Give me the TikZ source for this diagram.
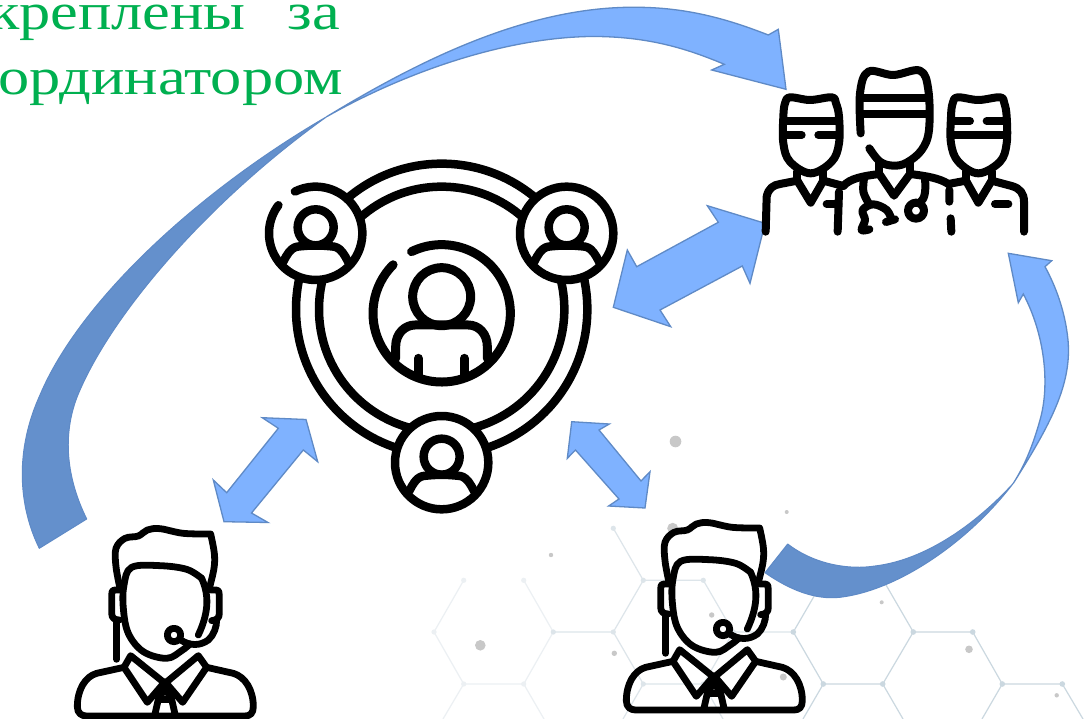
\documentclass[tikz,border=0pt]{standalone}
\usepackage{fontspec}
\newfontfamily\monoru[FakeStretch=1.2]{Liberation Serif}
\definecolor{lightblue}{RGB}{127,178,255}
\definecolor{darkblue}{RGB}{100,144,204}
\definecolor{edgeblue}{RGB}{95,138,198}
\definecolor{titlegreen}{RGB}{0,176,80}
\definecolor{hexa}{RGB}{236,240,243}
\definecolor{hexb}{RGB}{221,229,234}
\definecolor{hexc}{RGB}{203,216,224}
\definecolor{speck}{RGB}{200,200,200}
\tikzset{
  frontarrow/.style={fill=lightblue,draw=edgeblue,line width=1.3pt,line join=miter},
  backarrow/.style={fill=darkblue,draw=edgeblue,line width=1pt,line join=round},
  iconline/.style={draw=black,line width=#1,line cap=round,line join=round},
  hexline/.style={draw=#1,line width=1.2pt},
  hexdot/.style={fill=#1,draw=none},
  titletext/.style={font=\monoru\fontsize{52}{60}\selectfont,text=titlegreen,inner sep=0pt,anchor=base east},
}
% small person in a circle: head and shoulders (zoom units)
\newcommand\satperson[2]{%
  \fill[white] (#1,#2) circle (140);
  \draw[iconline=8.5pt] (#1,#2-18) circle (54);
  \draw[iconline=8.5pt] plot[smooth,tension=.7] coordinates {(#1-97,#2+85) (#1-72,#2+48) (#1-35,#2+38) (#1+35,#2+38) (#1+72,#2+48) (#1+97,#2+85)};
}
% operator with headset
\newcommand\operator[2]{%
\begin{scope}[shift={(#1,#2)},scale=.33333,iconline=6.8pt]
  \draw plot[smooth,tension=.6] coordinates {(180,235) (168,170) (168,115) (195,85) (235,78) (262,60) (300,56) (370,70) (452,72)} -- plot[smooth,tension=.6] coordinates {(452,72) (463,130) (462,175) (448,235)};
  \draw plot[smooth,tension=.6] coordinates {(425,205) (380,178) (300,167) (215,172) (192,225) (190,295) (205,370) (250,425) (320,445) (365,422) (390,402)};
  \draw (425,205) .. controls (445,250) and (450,300) .. (415,375);
  \draw (342,375) circle (20);
  \draw (362,390) .. controls (390,408) and (420,408) .. (445,390) .. controls (462,375) and (470,350) .. (470,330);
  \draw (178,240) -- (165,240) .. controls (155,240) and (155,250) .. (155,255) -- (155,310) .. controls (155,325) and (165,330) .. (178,330);
  \draw (452,240) -- (468,240) .. controls (478,240) and (478,250) .. (478,258) -- (478,310) .. controls (478,325) and (470,330) .. (455,332);
  \draw (170,330) -- (170,448);
  \draw (212,437) -- (192,472) -- (262,577) -- (315,515) -- (368,577) -- (440,472) -- (415,437) -- (315,520) -- cycle;
  \draw (295,568) -- (335,568);
  \draw (295,568) -- (315,535) -- (335,568);
  \draw (295,568) -- (285,612);
  \draw (335,568) -- (345,612);
  \draw (192,472) -- (110,490) .. controls (75,500) and (52,540) .. (52,590) .. controls (52,610) and (65,618) .. (80,618) -- (555,618) .. controls (570,618) and (580,610) .. (580,590) .. controls (580,540) and (555,500) .. (520,490) -- (440,472);
\end{scope}}
\begin{document}
\begin{tikzpicture}[x=1pt,y=-1pt]
\useasboundingbox (0,0) rectangle (1084,719);
\clip (0,0) rectangle (1084,719);
\fill[white] (0,0) rectangle (1084,719);

% hexagon background
\draw[hexline=hexa] (463.7,580.3) -- (434,632) -- (463.7,684) -- (523.7,684) -- (553.3,632) -- (523.7,580.3);
\draw[hexline=hexa] (463.7,684) -- (443,719) (523.7,684) -- (544,719);
\draw[hexline=hexb] (553.3,632) -- (613.3,632) -- (643.3,580.3) -- (613.3,528.3);
\draw[hexline=hexb] (643.3,580.3) -- (703.3,580.3) -- (733.3,632) -- (793.3,632);
\draw[hexline=hexb] (613.3,632) -- (643.3,684) -- (703.3,684) -- (733.3,632);
\draw[hexline=hexb] (643.3,684) -- (623,719) (703.3,684) -- (723,719);
\draw[hexline=hexc] (793.3,632) -- (823.3,684) -- (882.7,684) -- (913.3,632) -- (972.7,632) -- (1002.3,684) -- (1062.3,684) -- (1083,719);
\draw[hexline=hexc] (793.3,632) -- (823.3,580.3) (913.3,632) -- (883.3,580.3);
\draw[hexline=hexc] (823.3,684) -- (803,719) (882.7,684) -- (903,719) (1002.3,684) -- (982,719);
\foreach \hx/\hy in {463.7/580.3,434/632,463.7/684,523.7/684,523.7/580.3}
  \fill[hexdot=hexa] (\hx,\hy) circle (2.6);
\foreach \hx/\hy in {553.3/632,613.3/632,643.3/580.3,613.3/528.3,703.3/580.3,733.3/632,643.3/684,703.3/684}
  \fill[hexdot=hexb] (\hx,\hy) circle (2.6);
\foreach \hx/\hy in {793.3/632,823.3/684,882.7/684,913.3/632,972.7/632,1002.3/684,1062.3/684}
  \fill[hexdot=hexc] (\hx,\hy) circle (2.8);
\foreach \hx/\hy/\hr in {675.5/441.5/5.8,480.3/645.3/5.3,551/555/2.2,614.3/653.3/2.7,711.7/615/2.7,786.7/512/2,881.7/602.3/2,969/649.3/3.8,783.3/677/3.5,1056.7/695.3/2.2,672.7/528.3/5.5}
  \fill[speck] (\hx,\hy) circle (\hr);

% title
\node[titletext] (titleone) at (340,30) {креплены\hspace{26pt} за};
\node[titletext] (titletwo) at (343,95) {ординатором};

% long curved arrow, dark back part then light front part
\draw[backarrow] (39.3,548.3) .. controls (18,505) and (15,450) .. (40,395) .. controls (80,300) and (200,190) .. (327,116.5)
  .. controls (210,200) and (115,310) .. (80,390) .. controls (62,430) and (65,475) .. (86.7,519) -- cycle;
\draw[frontarrow] (327,116.5) .. controls (420,60) and (530,5) .. (640,7.3) .. controls (690,8) and (730,20) .. (768.3,35)
  -- (778.3,29.3) -- (786,89.3) -- (711.7,70) -- (724.3,64.3)
  .. controls (690,50) and (650,36) .. (590,36.5) .. controls (500,38) and (400,75) .. (327,116.5) -- cycle;

% right curved arrow
\draw[backarrow] (765,572.7) -- (787.7,544)
  .. controls (815,565) and (850,570) .. (875,566) .. controls (925,560) and (975,525) .. (1013.3,483.3)
  .. controls (970,540) and (900,590) .. (840,597.3) .. controls (815,600) and (790,590) .. (765,572.7) -- cycle;
\draw[frontarrow] (1013.3,483.3) .. controls (1050,425) and (1072,385) .. (1068,340) .. controls (1065,310) and (1055,285) .. (1045,266.7)
  -- (1051.7,260.7) -- (1008.3,253.3) -- (1018.3,302.7) -- (1023.3,294)
  .. controls (1045,335) and (1050,385) .. (1040,420) .. controls (1033,445) and (1025,465) .. (1013.3,483.3) -- cycle;

% straight double arrows
\draw[frontarrow] (613.3,307.3) -- (627.3,250) -- (636.7,266.7) -- (718.3,222.3) -- (707.3,205.7) -- (765,223.3) -- (750,283.3) -- (742.3,266) -- (660,310) -- (670.7,326.7) -- cycle;
\draw[frontarrow] (306,419.5) -- (317.7,461.7) -- (303.3,450) -- (251.5,513) -- (268,522.5) -- (224,521.7) -- (213.3,480) -- (226.7,492.7) -- (278.3,428.3) -- (262.3,417.7) -- cycle;
\draw[frontarrow] (571.7,421.7) -- (609.3,424) -- (599,430) -- (641,481) -- (650,471.7) -- (645,508) -- (608.6,506) -- (619,499) -- (575.5,450) -- (567.3,458.3) -- cycle;

% central group icon
\begin{scope}[shift={(250,150)},scale=.33333]
  \draw[iconline=8.5pt] (575,478) circle (437);
  \draw[iconline=8.5pt] (575,478) circle (368);
  \satperson{197}{250}
  \draw[iconline=8.5pt] (197,250) ++(243.6:140) arc (243.6:577:140);
  \satperson{950}{250}
  \draw[iconline=8.5pt] (950,250) circle (140);
  \satperson{575}{938}
  \draw[iconline=8.5pt] (575,938) circle (140);
  \draw[iconline=9pt] (575,490) ++(244:206) arc (244:585:206);
  \draw[iconline=9pt] (575,440) circle (87);
  \draw[iconline=9pt] (437,625) -- (437,590) .. controls (437,550) and (465,525) .. (495,525) -- (655,525) .. controls (685,525) and (712,550) .. (712,590) -- (712,625);
  \draw[iconline=9pt] (505,625) -- (505,678) (643,625) -- (643,678);
\end{scope}

% doctors
\begin{scope}[shift={(740,50)},scale=.33333,iconline=8pt]
  % left
  \draw plot[smooth cycle,tension=.6] coordinates {(130,200) (135,160) (150,142) (210,150) (275,142) (288,160) (297,200) (297,280) (275,335) (212,370) (150,335) (130,280)};
  \draw (130,213) -- (297,213);
  \draw (130,255) -- (185,255) (235,255) -- (297,255);
  \draw (172,365) -- (172,392) (250,365) -- (250,392);
  \draw (172,392) -- (212,458) -- (250,392);
  \draw (77,545) -- (80,440) .. controls (85,415) and (100,405) .. (120,402) -- (172,392);
  \draw (250,392) -- (310,408);
  \draw (260,462) -- (295,462);
  \draw (297,425) -- (293,545);
  % centre
  \draw plot[smooth,tension=.6] coordinates {(362,250) (360,130) (385,65) (460,75) (540,62) (565,120) (567,240) (545,300) (500,338) (460,347) (420,335) (388,295)};
  \draw (362,143) -- (565,143) (362,193) -- (565,193);
  \draw (418,335) -- (418,372) (510,335) -- (510,372);
  \draw (418,372) -- (462,437) -- (510,372);
  \draw (310,408) .. controls (330,385) and (370,378) .. (418,372);
  \draw (510,372) .. controls (560,378) and (600,385) .. (625,402);
  \draw plot[smooth,tension=.6] coordinates {(372,385) (370,425) (385,458)};
  \draw plot[smooth,tension=.6] coordinates {(388,538) (365,540) (375,510) (368,480) (400,463) (440,480) (455,510)};
  \draw (438,516) -- (465,508);
  \draw (555,385) .. controls (558,425) and (555,445) .. (540,458);
  \draw (528,482) circle (24);
  % right
  \draw plot[smooth cycle,tension=.6] coordinates {(633,200) (638,160) (653,142) (715,150) (780,142) (793,160) (800,200) (800,280) (780,335) (715,370) (655,335) (633,280)};
  \draw (633,213) -- (690,213) (740,213) -- (800,213);
  \draw (633,255) -- (800,255);
  \draw (678,365) -- (678,392) (755,365) -- (755,392);
  \draw (678,392) -- (715,458) -- (755,392);
  \draw (625,402) -- (678,392);
  \draw (755,392) -- (815,408) .. controls (840,415) and (852,430) .. (852,455) -- (852,545);
  \draw (765,462) -- (805,462);
  \draw (628,420) -- (628,455) (632,505) -- (634,545);
\end{scope}

% operators
\operator{60}{510}
\operator{609}{504}
\end{tikzpicture}
\end{document}
